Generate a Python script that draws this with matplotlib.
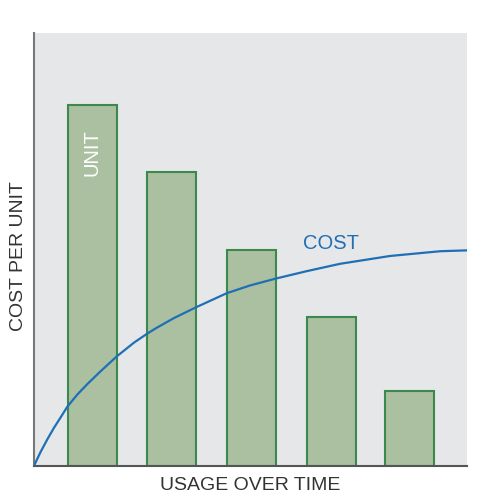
import matplotlib
matplotlib.use("Agg")
import matplotlib.pyplot as plt

plt.rcParams['font.family'] = ['Liberation Sans', 'DejaVu Sans']

# bars: unit cost at each usage step
bar_x = [13.5, 31.8, 50.2, 68.6, 86.8]
bar_h = [83.4, 67.9, 49.9, 34.4, 17.3]

# cumulative cost curve
cost_x = [0, 0.4, 1.5, 3.1, 4.6, 6.2, 7.7, 10.0, 12.3, 15.4, 19.1, 23.1,
          26.2, 28.3, 32.2, 37.3, 44.5, 49.9, 55.9, 63.0, 70.7, 82.2, 93.8, 100]
cost_y = [0, 0.9, 3.2, 6.2, 8.8, 11.3, 13.7, 16.5, 18.9, 21.9, 25.3, 28.5,
          30.6, 31.9, 34.1, 36.6, 39.9, 41.7, 43.3, 45.0, 46.7, 48.5, 49.6, 49.8]

fig = plt.figure(figsize=(5, 5), dpi=100)
ax = fig.add_axes([0.068, 0.068, 0.866, 0.866])
ax.set_facecolor("#e6e7e9")

ax.bar(bar_x, bar_h, width=11.3, color="#abbfa1", edgecolor="#3b8a4b",
       linewidth=1.5, zorder=2)
ax.plot(cost_x, cost_y, color="#1f6fb5", linewidth=1.6, zorder=3,
        solid_joinstyle="round")

ax.text(bar_x[0], 72.5, "UNIT", rotation=90, color="white", fontsize=14.5,
        ha="center", va="center", zorder=4)
ax.text(68.5, 51.3, "COST", color="#1f6fb5", fontsize=14.5,
        ha="center", va="center", zorder=4)

ax.set_xlim(0, 100)
ax.set_ylim(0, 100)
ax.set_xticks([])
ax.set_yticks([])
for s in ["top", "right"]:
    ax.spines[s].set_visible(False)
ax.spines["left"].set_color("#777777")
ax.spines["left"].set_linewidth(1.5)
ax.spines["bottom"].set_color("#555555")
ax.spines["bottom"].set_linewidth(1.5)

ax.set_xlabel("USAGE OVER TIME", fontsize=14, color="#333333", labelpad=8)
ax.set_ylabel("COST PER UNIT", fontsize=14, color="#333333")
ax.yaxis.set_label_coords(-0.016, 0.485)

fig.savefig("out.png", dpi=100)
